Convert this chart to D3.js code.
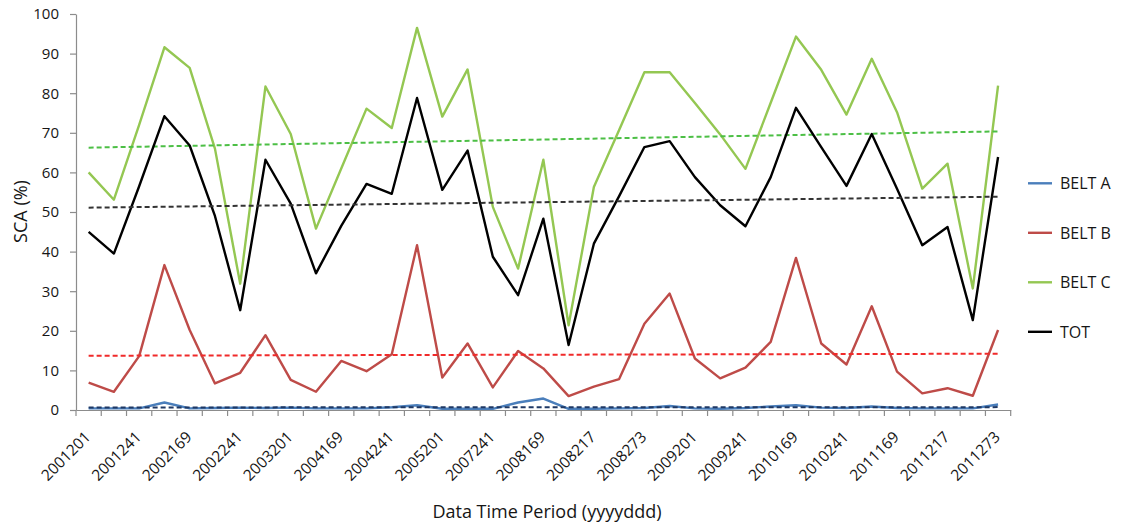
<!DOCTYPE html>
<html>
<head>
<meta charset="utf-8">
<script src="https://cdn.jsdelivr.net/npm/d3@7"></script>
<style>
  body { margin: 0; background: #fff; }
  svg text { font-family: "Open Sans", Lato, sans-serif; fill: #161616; }
</style>
</head>
<body>
<svg id="chart" width="1124" height="526"></svg>
<script>
// Category labels shown on the x axis (every second acquisition date, yyyyddd)
const tickLabels = ["2001201", "2001241", "2002169", "2002241", "2003201", "2004169", "2004241",
  "2005201", "2007241", "2008169", "2008217", "2008273", "2009201", "2009241", "2010169",
  "2010241", "2011169", "2011217", "2011273"];

// Snow cover area (%) per period
const beltA = [0.4, 0.4, 0.4, 1.9, 0.4, 0.5, 0.6, 0.5, 0.6, 0.4, 0.4, 0.4, 0.7, 1.2, 0.3, 0.3, 0.3,
  1.9, 2.9, 0.3, 0.3, 0.4, 0.5, 1.0, 0.4, 0.3, 0.5, 0.9, 1.2, 0.6, 0.5, 0.9, 0.5, 0.4, 0.4, 0.4, 1.4];
const beltB = [6.9, 4.6, 13.6, 36.6, 20.2, 6.7, 9.4, 18.9, 7.6, 4.6, 12.4, 9.8, 14.1, 41.6, 8.2, 16.8,
  5.7, 14.9, 10.5, 3.5, 5.9, 7.8, 21.8, 29.4, 13.0, 8.0, 10.7, 17.2, 38.4, 16.8, 11.5, 26.2, 9.7, 4.2,
  5.5, 3.6, 20.2];
const beltC = [60.0, 53.1, 72.0, 91.6, 86.4, 66.0, 31.9, 81.7, 69.7, 45.8, 61.0, 76.1, 71.2, 96.5,
  74.1, 86.0, 51.3, 35.7, 63.2, 21.4, 56.3, 70.7, 85.3, 85.3, 77.5, 69.6, 60.9, 77.6, 94.3, 85.9,
  74.6, 88.7, 75.2, 55.9, 62.2, 30.7, 81.9];
const tot = [45.0, 39.5, 56.5, 74.2, 66.8, 49.0, 25.2, 63.2, 52.1, 34.5, 46.5, 57.1, 54.6, 78.8,
  55.6, 65.5, 38.7, 29.0, 48.3, 16.4, 42.0, 54.0, 66.4, 67.9, 58.8, 51.7, 46.4, 58.8, 76.3, 66.4,
  56.6, 69.7, 55.9, 41.6, 46.2, 22.7, 63.9];

const seriesNames = ["BELT A", "BELT B", "BELT C", "TOT"];
const yTicks = [0, 10, 20, 30, 40, 50, 60, 70, 80, 90, 100];

const series = [
  { name: seriesNames[0], values: beltA, color: "#4a7ebb", trend: "#1f3864" },
  { name: seriesNames[1], values: beltB, color: "#be4b48", trend: "#f02a2a" },
  { name: seriesNames[2], values: beltC, color: "#94c752", trend: "#4cbf45" },
  { name: seriesNames[3], values: tot,   color: "#000000", trend: "#333333" }
];

const svg = d3.select("#chart");
const plot = { left: 76, right: 1010.7, top: 14, bottom: 410 };
const n = tot.length;

const x = d3.scaleBand().domain(d3.range(n)).range([plot.left, plot.right]).padding(0);
const cx = i => x(i) + x.bandwidth() / 2;
const y = d3.scaleLinear().domain([0, 100]).range([plot.bottom, plot.top]);

// Y axis
const yAxis = svg.append("g")
  .attr("transform", `translate(${plot.left},0)`)
  .call(d3.axisLeft(y).tickValues(yTicks).tickSize(6).tickSizeOuter(0).tickPadding(11));
yAxis.select(".domain").attr("stroke", "#8c8c8c").attr("stroke-width", 1.2);
yAxis.selectAll(".tick line").attr("stroke", "#8c8c8c").attr("stroke-width", 1.2);
yAxis.selectAll(".tick text").style("font-size", "15px").attr("fill", "#161616");

// X axis: labels on every second category, tick marks on category boundaries
const xAxis = svg.append("g")
  .attr("transform", `translate(0,${plot.bottom})`)
  .call(d3.axisBottom(x)
    .tickValues(d3.range(0, n, 2))
    .tickFormat(i => tickLabels[i / 2])
    .tickSize(0).tickSizeOuter(0));
xAxis.select(".domain").attr("stroke", "#8c8c8c").attr("stroke-width", 1.2);
xAxis.selectAll(".tick text")
  .style("font-size", "15.5px")
  .attr("fill", "#161616")
  .attr("text-anchor", "end")
  .attr("y", null).attr("dy", null)
  .attr("transform", "translate(3,28) rotate(-45)");
xAxis.append("g").selectAll("line")
  .data(d3.range(n + 1))
  .join("line")
  .attr("x1", i => i < n ? x(i) : plot.right)
  .attr("x2", i => i < n ? x(i) : plot.right)
  .attr("y1", 0).attr("y2", 6)
  .attr("stroke", "#8c8c8c").attr("stroke-width", 1.2);

// Least-squares linear trend over the category index
function linearFit(vals) {
  const xs = d3.range(vals.length);
  const mx = d3.mean(xs), my = d3.mean(vals);
  let num = 0, den = 0;
  xs.forEach((xi, k) => { num += (xi - mx) * (vals[k] - my); den += (xi - mx) ** 2; });
  const slope = num / den;
  return xi => my + slope * (xi - mx);
}

const line = d3.line().x((d, i) => cx(i)).y(d => y(d));

series.forEach(s => {
  svg.append("path")
    .attr("d", line(s.values))
    .attr("fill", "none")
    .attr("stroke", s.color)
    .attr("stroke-width", 2.4)
    .attr("stroke-linejoin", "round");
  const fit = linearFit(s.values);
  svg.append("line")
    .attr("x1", cx(0)).attr("y1", y(fit(0)))
    .attr("x2", cx(n - 1)).attr("y2", y(fit(n - 1)))
    .attr("stroke", s.trend)
    .attr("stroke-width", 2)
    .attr("stroke-dasharray", "5,3");
});

// Legend
const legend = svg.append("g");
series.forEach((s, k) => {
  const ly = 183.3 + k * 49.5;
  legend.append("line")
    .attr("x1", 1028).attr("x2", 1052).attr("y1", ly).attr("y2", ly)
    .attr("stroke", s.color).attr("stroke-width", 2.4);
  legend.append("text")
    .attr("x", 1060).attr("y", ly)
    .attr("dominant-baseline", "central")
    .style("font-size", "16px")
    .text(s.name);
});

// Axis titles
svg.append("text")
  .attr("transform", "translate(20,211.5) rotate(-90)")
  .attr("text-anchor", "middle")
  .attr("dominant-baseline", "central")
  .style("font-size", "18px")
  .text("SCA (%)");
svg.append("text")
  .attr("x", 547).attr("y", 518)
  .attr("text-anchor", "middle")
  .style("font-size", "18px")
  .text("Data Time Period (yyyyddd)");
</script>
</body>
</html>
